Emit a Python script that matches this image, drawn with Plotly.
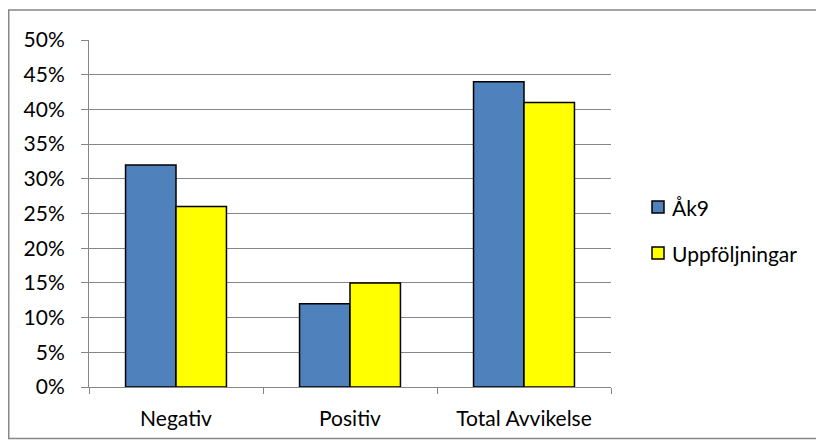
import plotly.graph_objects as go

categories = ["Negativ", "Positiv", "Total Avvikelse"]
ak9 = [0.32, 0.12, 0.44]
uppfoljningar = [0.26, 0.15, 0.41]
series_names = ["Åk9", "Uppföljningar"]
series_colors = ["#4F81BD", "#FFFF00"]
tick_vals = [0, 0.05, 0.10, 0.15, 0.20, 0.25, 0.30, 0.35, 0.40, 0.45, 0.50]
tick_text = ["0%", "5%", "10%", "15%", "20%", "25%", "30%", "35%", "40%", "45%", "50%"]

OFF = 8  # page body margin
W, H = 824 - OFF, 441 - OFF
L, R, T, B = 89 - OFF, 611 - OFF, 40 - OFF, 387 - OFF

fig = go.Figure()
for name, vals, col in zip(series_names, [ak9, uppfoljningar], series_colors):
    fig.add_trace(go.Bar(x=categories, y=vals, name=name, showlegend=False,
                         marker=dict(color=col, line=dict(color="black", width=1.5))))

pw, ph = R - L, B - T
def px(x): return (x - OFF - L) / pw
def py(y): return (B - (y - OFF)) / ph

fig.add_shape(type="rect", xref="paper", yref="paper",
              x0=px(8.75), x1=px(822.5), y0=py(438.5), y1=py(10),
              line=dict(color="#878787", width=1.5), fillcolor="rgba(0,0,0,0)", layer="below")

# legend (drawn manually to match placement)
legend_rows = [207, 253]
for name, col, yc in zip(series_names, series_colors, legend_rows):
    fig.add_shape(type="rect", xref="paper", yref="paper",
                  x0=px(652), x1=px(664), y0=py(yc + 6), y1=py(yc - 6),
                  line=dict(color="black", width=1.5), fillcolor=col)
    fig.add_annotation(xref="paper", yref="paper", x=px(670), y=py(yc),
                       text=name, showarrow=False, xanchor="left", yanchor="middle",
                       font=dict(size=21, color="black"))

fig.update_layout(
    width=W, height=H,
    margin=dict(l=L, r=W - R, t=T, b=H - B, pad=0),
    paper_bgcolor="white", plot_bgcolor="white",
    font=dict(family="Lato, Open Sans, sans-serif", size=21, color="black"),
    barmode="group", bargap=0.42, bargroupgap=0,
    showlegend=False,
    xaxis=dict(type="category", showline=True, linecolor="#868686", linewidth=1,
               ticks="outside", ticklen=6, tickcolor="#868686", tickson="boundaries",
               showgrid=False, ticklabelstandoff=13, fixedrange=True),
    yaxis=dict(range=[0, 0.5], tickvals=tick_vals, ticktext=tick_text,
               showline=True, linecolor="#868686", linewidth=1,
               showgrid=True, gridcolor="#868686", gridwidth=1,
               ticks="outside", ticklen=7, tickcolor="#868686",
               zeroline=False, ticklabelstandoff=12),
)

fig.write_html("out.html")
